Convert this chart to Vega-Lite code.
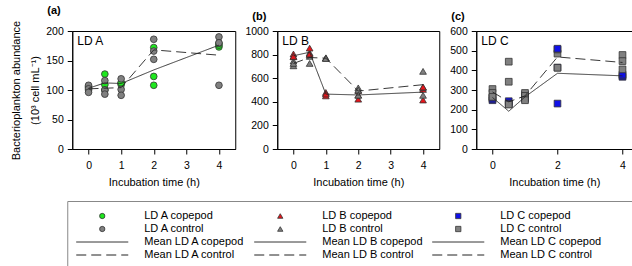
{
"$schema":"https://vega.github.io/schema/vega-lite/v6.json",
"padding":{"left":10,"top":4,"right":2,"bottom":2},
"datasets":{
"pts":[
{"panel":"A","series":"LD A copepod","t":0,"v":104},{"panel":"A","series":"LD A copepod","t":0,"v":100},{"panel":"A","series":"LD A copepod","t":0,"v":106},
{"panel":"A","series":"LD A control","t":0,"v":108},{"panel":"A","series":"LD A control","t":0,"v":102},{"panel":"A","series":"LD A control","t":0,"v":96},
{"panel":"A","series":"LD A copepod","t":0.5,"v":127},{"panel":"A","series":"LD A copepod","t":0.5,"v":109},{"panel":"A","series":"LD A copepod","t":0.5,"v":100},
{"panel":"A","series":"LD A control","t":0.5,"v":116},{"panel":"A","series":"LD A control","t":0.5,"v":100},{"panel":"A","series":"LD A control","t":0.5,"v":93},
{"panel":"A","series":"LD A copepod","t":1,"v":109},{"panel":"A","series":"LD A copepod","t":1,"v":112},{"panel":"A","series":"LD A copepod","t":1,"v":112},
{"panel":"A","series":"LD A control","t":1,"v":119},{"panel":"A","series":"LD A control","t":1,"v":101},{"panel":"A","series":"LD A control","t":1,"v":91},
{"panel":"A","series":"LD A copepod","t":2,"v":172},{"panel":"A","series":"LD A copepod","t":2,"v":123},{"panel":"A","series":"LD A copepod","t":2,"v":108},
{"panel":"A","series":"LD A control","t":2,"v":186},{"panel":"A","series":"LD A control","t":2,"v":166},{"panel":"A","series":"LD A control","t":2,"v":152},
{"panel":"A","series":"LD A copepod","t":4,"v":173},{"panel":"A","series":"LD A copepod","t":4,"v":176},{"panel":"A","series":"LD A copepod","t":4,"v":179},
{"panel":"A","series":"LD A control","t":4,"v":190},{"panel":"A","series":"LD A control","t":4,"v":180},{"panel":"A","series":"LD A control","t":4,"v":108},
{"panel":"B","series":"LD B control","t":0,"v":745},{"panel":"B","series":"LD B control","t":0,"v":705},{"panel":"B","series":"LD B control","t":0,"v":725},
{"panel":"B","series":"LD B copepod","t":0,"v":805},{"panel":"B","series":"LD B copepod","t":0,"v":782},{"panel":"B","series":"LD B copepod","t":0,"v":785},
{"panel":"B","series":"LD B control","t":0.5,"v":815},{"panel":"B","series":"LD B control","t":0.5,"v":725},{"panel":"B","series":"LD B control","t":0.5,"v":785},
{"panel":"B","series":"LD B copepod","t":0.5,"v":855},{"panel":"B","series":"LD B copepod","t":0.5,"v":800},{"panel":"B","series":"LD B copepod","t":0.5,"v":805},
{"panel":"B","series":"LD B control","t":1,"v":773},{"panel":"B","series":"LD B control","t":1,"v":770},{"panel":"B","series":"LD B control","t":1,"v":767},
{"panel":"B","series":"LD B copepod","t":1,"v":479},{"panel":"B","series":"LD B copepod","t":1,"v":450},{"panel":"B","series":"LD B copepod","t":1,"v":466},
{"panel":"B","series":"LD B copepod","t":2,"v":422},{"panel":"B","series":"LD B copepod","t":2,"v":456},{"panel":"B","series":"LD B copepod","t":2,"v":495},
{"panel":"B","series":"LD B control","t":2,"v":518},{"panel":"B","series":"LD B control","t":2,"v":499},{"panel":"B","series":"LD B control","t":2,"v":456},
{"panel":"B","series":"LD B copepod","t":4,"v":415},{"panel":"B","series":"LD B copepod","t":4,"v":505},
{"panel":"B","series":"LD B control","t":4,"v":658},{"panel":"B","series":"LD B control","t":4,"v":522},{"panel":"B","series":"LD B control","t":4,"v":455},
{"panel":"B","series":"LD B copepod","t":4,"v":525},
{"panel":"C","series":"LD C copepod","t":0,"v":248},{"panel":"C","series":"LD C copepod","t":0,"v":255},{"panel":"C","series":"LD C copepod","t":0,"v":262},
{"panel":"C","series":"LD C control","t":0,"v":305},{"panel":"C","series":"LD C control","t":0,"v":285},{"panel":"C","series":"LD C control","t":0,"v":265},
{"panel":"C","series":"LD C copepod","t":0.5,"v":243},{"panel":"C","series":"LD C copepod","t":0.5,"v":232},{"panel":"C","series":"LD C copepod","t":0.5,"v":228},
{"panel":"C","series":"LD C control","t":0.5,"v":444},{"panel":"C","series":"LD C control","t":0.5,"v":342},{"panel":"C","series":"LD C control","t":0.5,"v":226},
{"panel":"C","series":"LD C copepod","t":1,"v":262},{"panel":"C","series":"LD C copepod","t":1,"v":255},{"panel":"C","series":"LD C copepod","t":1,"v":275},
{"panel":"C","series":"LD C control","t":1,"v":285},{"panel":"C","series":"LD C control","t":1,"v":270},{"panel":"C","series":"LD C control","t":1,"v":248},
{"panel":"C","series":"LD C copepod","t":2,"v":414},
{"panel":"C","series":"LD C control","t":2,"v":485},{"panel":"C","series":"LD C control","t":2,"v":413},{"panel":"C","series":"LD C control","t":2,"v":506},
{"panel":"C","series":"LD C copepod","t":2,"v":510},{"panel":"C","series":"LD C copepod","t":2,"v":231},
{"panel":"C","series":"LD C copepod","t":4,"v":367},{"panel":"C","series":"LD C copepod","t":4,"v":372},{"panel":"C","series":"LD C copepod","t":4,"v":378},
{"panel":"C","series":"LD C control","t":4,"v":478},{"panel":"C","series":"LD C control","t":4,"v":447},{"panel":"C","series":"LD C control","t":4,"v":405}
],
"means":[
{"panel":"A","series":"Mean LD A copepod","t":0,"v":103},{"panel":"A","series":"Mean LD A copepod","t":0.5,"v":112},{"panel":"A","series":"Mean LD A copepod","t":1,"v":111},{"panel":"A","series":"Mean LD A copepod","t":2,"v":134},{"panel":"A","series":"Mean LD A copepod","t":4,"v":176},
{"panel":"A","series":"Mean LD A control","t":0,"v":102},{"panel":"A","series":"Mean LD A control","t":0.5,"v":103},{"panel":"A","series":"Mean LD A control","t":1,"v":104},{"panel":"A","series":"Mean LD A control","t":2,"v":168},{"panel":"A","series":"Mean LD A control","t":4,"v":159},
{"panel":"B","series":"Mean LD B copepod","t":0,"v":790},{"panel":"B","series":"Mean LD B copepod","t":0.5,"v":820},{"panel":"B","series":"Mean LD B copepod","t":1,"v":465},{"panel":"B","series":"Mean LD B copepod","t":2,"v":458},{"panel":"B","series":"Mean LD B copepod","t":4,"v":482},
{"panel":"B","series":"Mean LD B control","t":0,"v":725},{"panel":"B","series":"Mean LD B control","t":0.5,"v":775},{"panel":"B","series":"Mean LD B control","t":1,"v":770},{"panel":"B","series":"Mean LD B control","t":2,"v":491},{"panel":"B","series":"Mean LD B control","t":4,"v":545},
{"panel":"C","series":"Mean LD C copepod","t":0,"v":262},{"panel":"C","series":"Mean LD C copepod","t":0.5,"v":192},{"panel":"C","series":"Mean LD C copepod","t":1,"v":265},{"panel":"C","series":"Mean LD C copepod","t":2,"v":385},{"panel":"C","series":"Mean LD C copepod","t":4,"v":372},
{"panel":"C","series":"Mean LD C control","t":0,"v":290},{"panel":"C","series":"Mean LD C control","t":0.5,"v":240},{"panel":"C","series":"Mean LD C control","t":1,"v":270},{"panel":"C","series":"Mean LD C control","t":2,"v":468},{"panel":"C","series":"Mean LD C control","t":4,"v":440}
],
"leg":[
{"series":"LD A copepod","group":"LD A","kind":"copepod"},{"series":"LD B copepod","group":"LD B","kind":"copepod"},{"series":"LD C copepod","group":"LD C","kind":"copepod"},
{"series":"LD A control","group":"LD A","kind":"control"},{"series":"LD B control","group":"LD B","kind":"control"},{"series":"LD C control","group":"LD C","kind":"control"},
{"series":"Mean LD A copepod","group":"LD A","kind":"Mean copepod"},{"series":"Mean LD B copepod","group":"LD B","kind":"Mean copepod"},{"series":"Mean LD C copepod","group":"LD C","kind":"Mean copepod"},
{"series":"Mean LD A control","group":"LD A","kind":"Mean control"},{"series":"Mean LD B control","group":"LD B","kind":"Mean control"},{"series":"Mean LD C control","group":"LD C","kind":"Mean control"}
]
},
"columns":1,
"center":true,
"spacing":12,
"concat":[
{
"spacing":8,
"hconcat":[
{
"width":163,"height":118,
"title":{"text":"(a)"},
"layer":[
{"data":{"name":"pts"},"transform":[{"filter":"datum.panel==='A'"}],
"mark":{"type":"point","filled":true,"size":45,"stroke":"#333","strokeWidth":0.8,"opacity":1},
"encoding":{
"x":{"field":"t","type":"quantitative","scale":{"domain":[-0.5,4.5],"nice":false,"zero":false},"axis":{"title":"Incubation time (h)","values":[0,0.5,1,1.5,2,2.5,3,3.5,4],"labelOverlap":false,"labelExpr":"datum.value % 1 === 0 ? datum.label : ''"}},
"y":{"field":"v","type":"quantitative","scale":{"domain":[0,200],"nice":false},"axis":{"title":["Bacterioplankton abundance","(10³ cell mL⁻¹)"],"tickCount":4,"format":"d","labelOverlap":false,"titlePadding":5,"titleLineHeight":19}},
"fill":{"field":"series","type":"nominal","scale":{"domain":["LD A copepod","LD B copepod","LD C copepod","LD A control","LD B control","LD C control"],"range":["#1ee81e","#e8141a","#1010e8","#808080","#808080","#808080"]},"legend":null},
"shape":{"field":"series","type":"nominal","scale":{"domain":["LD A copepod","LD B copepod","LD C copepod","LD A control","LD B control","LD C control"],"range":["circle","triangle-up","square","circle","triangle-up","square"]},"legend":null}
}},
{"data":{"name":"means"},"transform":[{"filter":"datum.panel==='A'"}],
"mark":{"type":"line","color":"#222","strokeWidth":0.9},
"encoding":{
"x":{"field":"t","type":"quantitative"},
"y":{"field":"v","type":"quantitative"},
"strokeDash":{"field":"series","type":"nominal","scale":{"domain":["Mean LD A copepod","Mean LD B copepod","Mean LD C copepod","Mean LD A control","Mean LD B control","Mean LD C control"],"range":[[1,0],[1,0],[1,0],[10,5],[10,5],[10,5]]},"legend":null}
}},
{"data":{"values":[{"label":"LD A"}]},
"mark":{"type":"text","align":"left","baseline":"top","dx":5,"dy":5,"fontSize":12,"color":"#000"},
"encoding":{"x":{"datum":-0.5,"type":"quantitative"},"y":{"datum":200,"type":"quantitative"},"text":{"field":"label"}}}
]
},
{
"width":162,"height":118,
"title":{"text":"(b)"},
"layer":[
{"data":{"name":"pts"},"transform":[{"filter":"datum.panel==='B'"}],
"mark":{"type":"point","filled":true,"size":45,"stroke":"#333","strokeWidth":0.8,"opacity":1},
"encoding":{
"x":{"field":"t","type":"quantitative","scale":{"domain":[-0.5,4.5],"nice":false,"zero":false},"axis":{"title":"Incubation time (h)","values":[0,0.5,1,1.5,2,2.5,3,3.5,4],"labelOverlap":false,"labelExpr":"datum.value % 1 === 0 ? datum.label : ''"}},
"y":{"field":"v","type":"quantitative","scale":{"domain":[0,1000],"nice":false},"axis":{"title":null,"tickCount":5,"format":"d","labelOverlap":false}},
"fill":{"field":"series","type":"nominal","legend":null},
"shape":{"field":"series","type":"nominal","legend":null}
}},
{"data":{"name":"means"},"transform":[{"filter":"datum.panel==='B'"}],
"mark":{"type":"line","color":"#222","strokeWidth":0.9},
"encoding":{
"x":{"field":"t","type":"quantitative"},
"y":{"field":"v","type":"quantitative"},
"strokeDash":{"field":"series","type":"nominal","legend":null}
}},
{"data":{"values":[{"label":"LD B"}]},
"mark":{"type":"text","align":"left","baseline":"top","dx":5,"dy":5,"fontSize":12,"color":"#000"},
"encoding":{"x":{"datum":-0.5,"type":"quantitative"},"y":{"datum":1000,"type":"quantitative"},"text":{"field":"label"}}}
]
},
{
"width":156,"height":118,
"title":{"text":"(c)"},
"layer":[
{"data":{"name":"pts"},"transform":[{"filter":"datum.panel==='C'"}],
"mark":{"type":"point","filled":true,"size":45,"stroke":"#333","strokeWidth":0.8,"opacity":1},
"encoding":{
"x":{"field":"t","type":"quantitative","scale":{"domain":[-0.5,4.3],"nice":false,"zero":false},"axis":{"title":"Incubation time (h)","values":[0,0.5,1,1.5,2,2.5,3,3.5,4],"labelOverlap":false,"labelExpr":"datum.value % 1 === 0 ? datum.label : ''"}},
"y":{"field":"v","type":"quantitative","scale":{"domain":[0,600],"nice":false},"axis":{"title":null,"tickCount":6,"format":"d","labelOverlap":false}},
"fill":{"field":"series","type":"nominal","legend":null},
"shape":{"field":"series","type":"nominal","legend":null}
}},
{"data":{"name":"means"},"transform":[{"filter":"datum.panel==='C'"}],
"mark":{"type":"line","color":"#222","strokeWidth":0.9},
"encoding":{
"x":{"field":"t","type":"quantitative"},
"y":{"field":"v","type":"quantitative"},
"strokeDash":{"field":"series","type":"nominal","legend":null}
}},
{"data":{"values":[{"label":"LD C"}]},
"mark":{"type":"text","align":"left","baseline":"top","dx":5,"dy":5,"fontSize":12,"color":"#000"},
"encoding":{"x":{"datum":-0.5,"type":"quantitative"},"y":{"datum":600,"type":"quantitative"},"text":{"field":"label"}}}
]
}
]
},
{
"width":570,"height":65,
"view":{"stroke":"#888","strokeWidth":1},
"data":{"name":"leg"},
"encoding":{
"x":{"field":"group","type":"nominal","scale":{"type":"point","domain":["LD A","LD B","LD C"],"range":[35,391],"padding":0},"axis":null},
"y":{"field":"kind","type":"nominal","scale":{"type":"point","domain":["copepod","control","Mean copepod","Mean control"],"range":[15,54],"padding":0},"axis":{"title":null,"labels":false,"ticks":false,"domain":true,"domainColor":"transparent","offset":14}}
},
"layer":[
{"transform":[{"filter":"indexof(datum.kind,'Mean') < 0"}],
"mark":{"type":"point","filled":true,"size":28,"stroke":"#333","strokeWidth":0.8,"opacity":1},
"encoding":{
"fill":{"field":"series","type":"nominal","legend":null},
"shape":{"field":"series","type":"nominal","legend":null}
}},
{"transform":[{"filter":"indexof(datum.kind,'Mean') === 0"}],
"mark":{"type":"point","shape":"stroke","filled":false,"size":2704,"stroke":"#222","strokeWidth":1,"opacity":1},
"encoding":{
"strokeDash":{"field":"series","type":"nominal","legend":null}
}},
{"mark":{"type":"text","align":"left","baseline":"middle","dx":42,"fontSize":11,"color":"#000"},
"encoding":{"text":{"field":"series"}}}
]
}
],
"config":{
"font":"Liberation Sans",
"view":{"stroke":"#000","strokeWidth":1},
"axis":{"grid":false,"domainColor":"#000","tickColor":"#000","tickSize":5,"labelFontSize":10.5,"labelColor":"#000","labelPadding":4,"labelOverlap":false,"titleFontSize":11,"titleFontWeight":"normal","titleColor":"#000","titlePadding":3},
"axisX":{"labelPadding":6,"titlePadding":6},
"title":{"anchor":"start","frame":"group","fontSize":11,"fontWeight":"bold","dx":-25,"offset":0,"color":"#000"}
}
}
